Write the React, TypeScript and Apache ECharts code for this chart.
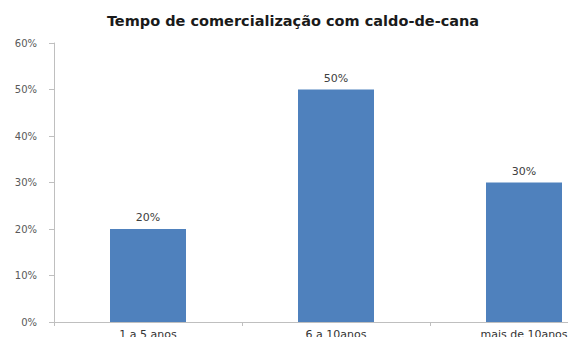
import React, { useEffect, useRef } from "react";
import * as echarts from "echarts";

const categories = ["1 a 5 anos", "6 a 10anos", "mais de 10anos"];
const values = [20, 50, 30];
const yTicks = [0, 10, 20, 30, 40, 50, 60];
const title = "Tempo de comercialização com caldo-de-cana";

export default function App() {
  const ref = useRef<HTMLDivElement>(null);
  useEffect(() => {
    if (!ref.current) return;
    const chart = echarts.init(ref.current, null, { renderer: "svg" });
    chart.setOption({
      animation: false,
      backgroundColor: "#ffffff",
      title: {
        text: title,
        left: 288,
        textAlign: "center",
        top: 8,
        textStyle: {
          fontFamily: "DejaVu Sans",
          fontSize: 14.5,
          fontWeight: "bold",
          color: "#1a1a1a",
        },
      },
      grid: { left: 54, top: 43, width: 564, height: 279 },
      xAxis: {
        type: "category",
        data: categories,
        axisLine: { lineStyle: { color: "#bfbfbf" } },
        axisTick: { show: true, length: 4, lineStyle: { color: "#bfbfbf" } },
        axisLabel: {
          fontFamily: "DejaVu Sans",
          fontSize: 11,
          color: "#333333",
          margin: 7,
        },
      },
      yAxis: {
        type: "value",
        min: yTicks[0],
        max: yTicks[yTicks.length - 1],
        interval: 10,
        splitLine: { show: false },
        axisLine: { show: true, lineStyle: { color: "#bfbfbf" } },
        axisTick: { show: true, length: 5, lineStyle: { color: "#bfbfbf" } },
        axisLabel: {
          formatter: "{value}%",
          fontFamily: "DejaVu Sans",
          fontSize: 10,
          color: "#595959",
          margin: 17,
        },
      },
      series: [
        {
          type: "bar",
          data: values,
          barWidth: 76,
          itemStyle: { color: "#4f81bd" },
          label: {
            show: true,
            position: "top",
            formatter: "{c}%",
            fontFamily: "DejaVu Sans",
            fontSize: 11,
            color: "#404040",
            distance: 6,
          },
        },
      ],
    });
    return () => chart.dispose();
  }, []);
  return (
    <div style={{ width: 576, height: 345, margin: -8, overflow: "hidden" }}>
      <div ref={ref} style={{ width: 640, height: 345 }} />
    </div>
  );
}
